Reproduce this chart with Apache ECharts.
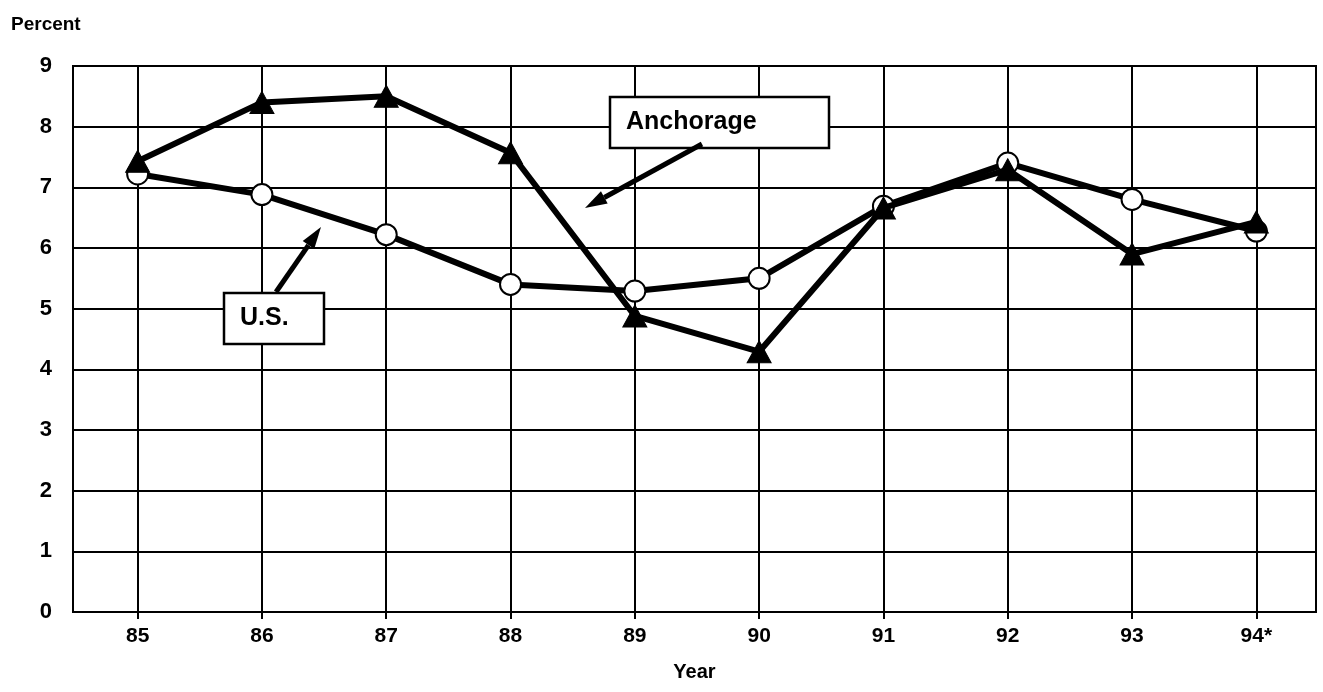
<!DOCTYPE html>
<html>
<head>
<meta charset="utf-8">
<script src="https://cdn.jsdelivr.net/npm/echarts@6/dist/echarts.min.js"></script>
<style>
  html, body { margin: 0; padding: 0; background: #fff; }
  #chart { width: 1323px; height: 692px; }
</style>
</head>
<body>
<div id="chart"></div>
<script>
// categories and values
const years = ["85", "86", "87", "88", "89", "90", "91", "92", "93", "94*"];
const anchorage = [7.43, 8.4, 8.5, 7.57, 4.88, 4.29, 6.66, 7.29, 5.9, 6.43];
const usRate = [7.22, 6.88, 6.22, 5.4, 5.29, 5.5, 6.69, 7.4, 6.8, 6.28];

const font = '"Liberation Sans", Arial, sans-serif';
const chart = echarts.init(document.getElementById("chart"));
const idx = years.map((_, i) => i);

// arrow helper: line + filled head (annotation only)
function arrow(tx, ty, hx, hy) {
    const dx = hx - tx, dy = hy - ty;
    const len = Math.sqrt(dx * dx + dy * dy);
    const ux = dx / len, uy = dy / len;
    const L = 22, w = 7;
    const bx = hx - ux * L, by = hy - uy * L;
    return [
        { type: "line", shape: { x1: tx, y1: ty, x2: bx, y2: by }, style: { stroke: "#000", lineWidth: 5 }, z: 100 },
        { type: "polygon", shape: { points: [[hx, hy], [bx - uy * w, by + ux * w], [bx + uy * w, by - ux * w]] }, style: { fill: "#000" }, z: 100 }
    ];
}

function labelBox(x, y, w, h, text) {
    return [
        { type: "rect", shape: { x: x, y: y, width: w, height: h }, style: { fill: "#fff", stroke: "#000", lineWidth: 2.5 }, z: 100 },
        { type: "text", x: x + 16, y: y + h / 2, style: { text: text, font: "bold 25px " + font, fill: "#000", verticalAlign: "middle" }, z: 101 }
    ];
}

const option = {
    backgroundColor: "#fff",
    animation: false,
    title: {
        text: "Percent",
        left: 6,
        top: 10,
        textStyle: { color: "#000", fontFamily: font, fontWeight: "bold", fontSize: 19 }
    },
    grid: {
        left: 73, right: 7, top: 66, bottom: 80,
        show: true, borderColor: "#000", borderWidth: 2
    },
    xAxis: {
        type: "value",
        min: -0.52,
        max: 9.48,
        axisLine: { show: true, lineStyle: { color: "#000", width: 2 } },
        axisTick: { show: true, length: 7, lineStyle: { color: "#000", width: 2 }, customValues: idx },
        axisLabel: {
            customValues: idx,
            formatter: (v) => years[Math.round(v)],
            color: "#000", fontFamily: font, fontWeight: "bold", fontSize: 21, margin: 14
        },
        splitLine: { show: true, lineStyle: { color: "#000", width: 2 } },
        name: "Year",
        nameLocation: "middle",
        nameGap: 50,
        nameTextStyle: { color: "#000", fontFamily: font, fontWeight: "bold", fontSize: 20 }
    },
    yAxis: {
        type: "value",
        min: 0,
        max: 9,
        interval: 1,
        axisLine: { show: true, lineStyle: { color: "#000", width: 2 } },
        axisTick: { show: true, length: 9, lineStyle: { color: "#000", width: 2 } },
        axisLabel: {
            formatter: (v) => String(v),
            color: "#000", fontFamily: font, fontWeight: "bold", fontSize: 22, margin: 21
        },
        splitLine: { show: true, lineStyle: { color: "#000", width: 2 } }
    },
    series: [
        {
            name: "U.S.",
            type: "line",
            data: usRate.map((v, i) => [i, v]),
            symbol: "circle",
            symbolSize: 21,
            lineStyle: { color: "#000", width: 6 },
            itemStyle: { color: "#fff", borderColor: "#000", borderWidth: 2 },
            z: 3
        },
        {
            name: "Anchorage",
            type: "line",
            data: anchorage.map((v, i) => [i, v]),
            symbol: "triangle",
            symbolSize: [24, 22],
            lineStyle: { color: "#000", width: 6 },
            itemStyle: { color: "#000", borderColor: "#000", borderWidth: 1 },
            z: 4
        }
    ],
    graphic: [].concat(
        labelBox(610, 97, 219, 51, "Anchorage"),
        arrow(702, 144, 585, 208),
        labelBox(224, 293, 100, 51, "U.S."),
        arrow(276, 292, 321, 227)
    )
};

chart.setOption(option);
</script>
</body>
</html>
